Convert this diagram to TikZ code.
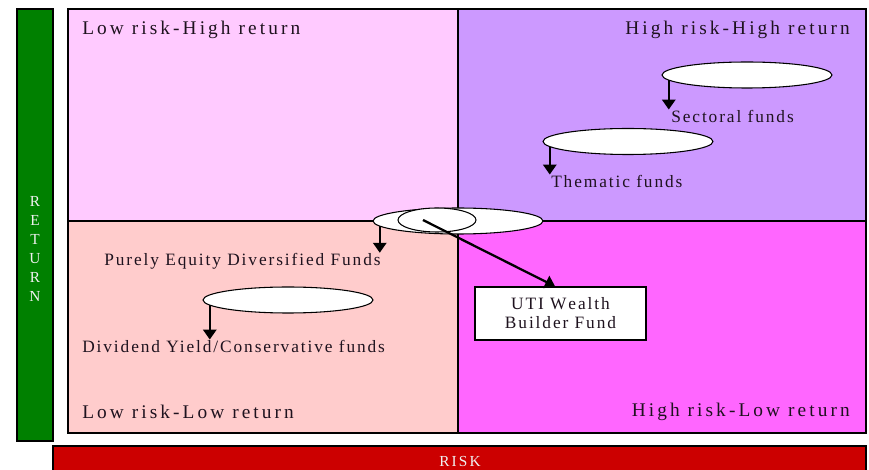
\documentclass[tikz,border=0pt]{standalone}
\usepackage{fontspec}
\usepackage{tikz}
\usetikzlibrary{shapes.geometric,arrows.meta}
\setmainfont{Liberation Serif}
\newfontfamily\quadfont[LetterSpace=16]{Liberation Serif}
\newfontfamily\fundfont[LetterSpace=11]{Liberation Serif}
\newfontfamily\axisfont[LetterSpace=14]{Liberation Serif}
\definecolor{riskpink}{RGB}{255,202,255}
\definecolor{risklilac}{RGB}{204,153,255}
\definecolor{riskrose}{RGB}{255,204,204}
\definecolor{riskmagenta}{RGB}{255,102,255}
\definecolor{axisgreen}{RGB}{0,128,0}
\definecolor{axisred}{RGB}{204,0,0}
\definecolor{inkdark}{RGB}{30,18,30}

\begin{document}
\begin{tikzpicture}[x=0.75pt, y=-0.75pt,
  quadlabel/.style={font=\quadfont\fontsize{14.5}{16}\selectfont, text=inkdark, inner sep=0pt},
  fundlabel/.style={font=\fundfont\fontsize{13}{14.25}\selectfont, text=inkdark, inner sep=0pt},
  fundoval/.style={ellipse, draw, line width=0.8pt, fill=white, minimum width=127.5pt, minimum height=19.5pt, inner sep=0pt},
  pointer/.style={line width=1.7pt, -{Triangle[length=7.5pt,width=10pt]}}]
  \useasboundingbox (0,0) rectangle (869,470);
  \clip (0,0) rectangle (869,470);
  % the four quadrants
  \fill[riskpink] (68,9) rectangle (458,221);
  \fill[risklilac] (458,9) rectangle (866,221);
  \fill[riskrose] (68,221) rectangle (458,433);
  \fill[riskmagenta] (458,221) rectangle (866,433);
  \draw[line width=0.8pt] (68,9) rectangle (866,433);
  \draw[line width=0.8pt] (68,221) -- (866,221) (458,9) -- (458,433);
  \node[quadlabel, anchor=west] (lowhigh) at (82,30) {Low risk-High return};
  \node[quadlabel, anchor=east] (highhigh) at (850,30) {High risk-High return};
  \node[quadlabel, anchor=west] (lowlow) at (82,412) {Low risk-Low return};
  \node[quadlabel, anchor=east] (highlow) at (850,412) {High risk-Low return};

  % axes
  \draw[fill=axisgreen, line width=0.8pt] (17,9) rectangle (53,441);
  \node[font=\fontsize{11.5}{14.25}\selectfont, text=white!88!gray, align=center, inner sep=0pt] (returnaxis) at (35,249) {R\\E\\T\\U\\R\\N};
  \draw[fill=axisred, line width=0.8pt] (53,446) rectangle (866,480);
  \node[font=\axisfont\fontsize{11.5}{12}\selectfont, text=white!88!gray, inner sep=0pt] (riskaxis) at (460,462) {RISK};

  % high risk funds
  \node[fundoval] (sectoral) at (747,75) {};
  \node[fundlabel, anchor=west] (sectorallbl) at (671,116) {Sectoral funds};
  \draw[pointer] (sectoral.184) -- (sectoral.184 |- sectorallbl.north);
  \node[fundoval] (thematic) at (628,141.5) {};
  \node[fundlabel, anchor=west] (thematiclbl) at (551,181) {Thematic funds};
  \draw[pointer] (thematic.184) -- (thematic.184 |- thematiclbl.north);

  % centre
  \node[fundoval] (equity) at (458,221) {};
  \node[fundoval, minimum width=58.5pt, minimum height=18pt] (uticore) at (437,220) {};
  \node[fundlabel, anchor=west] (equitylbl) at (104,261) {Purely Equity Diversified Funds};
  \draw[pointer] (equity.184) -- (equity.184 |- equitylbl.north);
  \node[fundlabel, draw, fill=white, line width=0.8pt, minimum width=128.25pt, minimum height=39.75pt, align=center] (uti) at (560.5,313.5) {UTI W\kern1.5pt ealth\\Builder Fund};
  \draw[pointer] ([xshift=-10.5pt]uticore.center) -- ([xshift=-4pt]uti.north);

  % low risk funds
  \node[fundoval] (dividend) at (288,300) {};
  \node[fundlabel, anchor=west] (dividendlbl) at (82,346) {Dividend Yield/Conservative funds};
  \draw[pointer] (dividend.184) -- (dividend.184 |- dividendlbl.north);
\end{tikzpicture}
\end{document}
